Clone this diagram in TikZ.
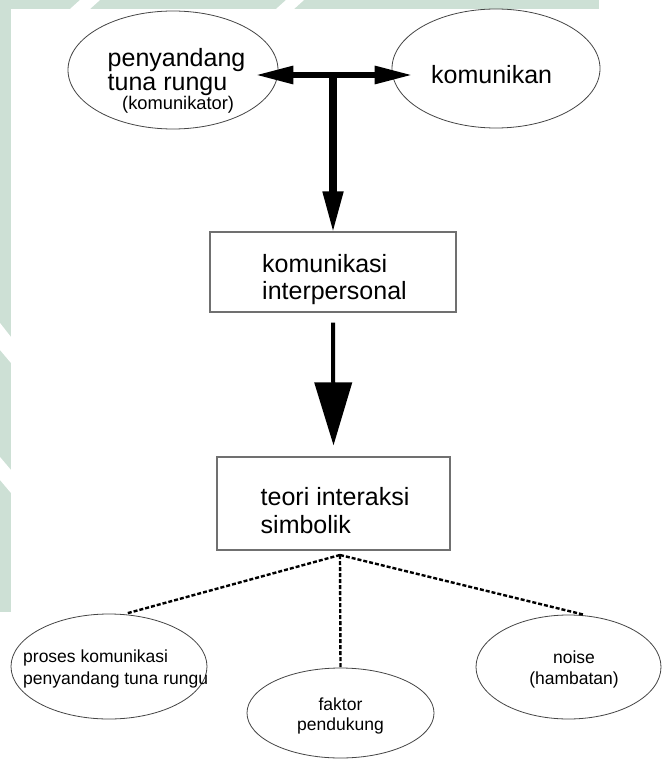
\documentclass[tikz,border=0pt]{standalone}
\usepackage{fontspec}
\setmainfont{Liberation Sans}
\usetikzlibrary{shapes.geometric,arrows.meta,calc}
\definecolor{wmgreen}{HTML}{CDE0D5}
\definecolor{edgegray}{HTML}{454545}
\definecolor{boxgray}{HTML}{707070}
\tikzset{
  oval/.style={draw=edgegray,line width=0.8pt,ellipse,inner sep=0pt},
  box/.style={draw=boxgray,line width=1.2pt,rectangle,inner sep=0pt},
  big/.style={inner sep=0pt,align=left},
  mid/.style={font=\fontsize{18.3}{20}\selectfont,inner sep=0pt},
  small/.style={inner sep=0pt},
  harrow/.style={line width=6pt,{Triangle[length=38pt,width=17pt]}-{Triangle[length=38pt,width=17pt]}},
  stemarrow/.style={line width=7.5pt,-{Triangle[length=42pt,width=19pt]}},
  bigarrow/.style={line width=4pt,-{Triangle[length=63pt,width=37pt]}},
  dotline/.style={line width=2.4pt,dash pattern=on 4pt off 2pt}
}
\begin{document}
\begin{tikzpicture}[x=1pt,y=-1pt]
\useasboundingbox (0,0) rectangle (661,759);
% watermark
\fill[white] (0,0) rectangle (661,759);
\fill[wmgreen] (0,0) rectangle (599,9);
\fill[wmgreen] (0,0) rectangle (11,612);
\fill[white] (70,9) -- (80,0) -- (100,0) -- (90,9) -- cycle;
\fill[white] (276,9) -- (286,0) -- (304,0) -- (294,9) -- cycle;
\fill[white] (0,323) -- (11,337) -- (11,363) -- (0,350) -- cycle;
\fill[white] (0,457) -- (11,470) -- (11,493) -- (0,480) -- cycle;

% top ellipses
\node[oval,minimum width=210pt,minimum height=118pt] (TL) at (173,70) {};
\node[oval,minimum width=208pt,minimum height=119pt] (TR) at (496,68.5) {};
\node[big,font=\fontsize{25}{24}\selectfont,anchor=base west] (TLt) at (107.5,91) {penyandang\\tuna rungu};
\node[mid,anchor=base west] (TLk) at (122,110) {(komunikator)};
\node[big,font=\fontsize{25}{27}\selectfont,anchor=base west] (TRt) at (431,84) {komunikan};

% boxes
\node[box,minimum width=246pt,minimum height=80pt] (K) at (333,272) {};
\node[big,font=\fontsize{25}{27}\selectfont,anchor=base west] (Kt) at (262,299) {komunikasi\\interpersonal};
\node[box,minimum width=233pt,minimum height=93pt] (S) at (333.5,503.5) {};
\node[big,font=\fontsize{25}{28}\selectfont,anchor=base west] (St) at (260.5,533) {teori interaksi\\simbolik};

% bottom ellipses
\node[oval,minimum width=196pt,minimum height=105pt] (BL) at (109,666.5) {};
\node[oval,minimum width=187pt,minimum height=90pt] (BM) at (340.5,713) {};
\node[oval,minimum width=185pt,minimum height=104pt] (BR) at (568.5,667) {};
\node[small,font=\fontsize{17.5}{22}\selectfont,anchor=base west,align=left] (BLt) at (23,684.5) {proses komunikasi\\penyandang tuna rungu};
\node[small,font=\fontsize{17.5}{20}\selectfont,anchor=base,align=center] (BMt) at (340.5,730.5) {faktor\\pendukung};
\node[small,font=\fontsize{17.5}{21.5}\selectfont,anchor=base,align=center] (BRt) at (574,684.5) {noise\\(hambatan)};

% arrows
\coordinate (J) at (333,75);
\draw[harrow] ($(J -| TL.east)+(-23,0)$) -- ($(J -| TR.west)+(21,0)$);
\draw[stemarrow] (J) -- ([yshift=-2pt]K.north);
\draw[bigarrow] ([yshift=-10pt]K.south) -- ([yshift=11pt]S.north);

% dashed links
\coordinate (D) at (340,555);
\draw[dotline] (D) -- ([xshift=17pt]BL.north);
\draw[dotline] (D) -- (BM.north);
\draw[dotline] (D) -- ([xshift=15pt]BR.north);
\end{tikzpicture}
\end{document}
